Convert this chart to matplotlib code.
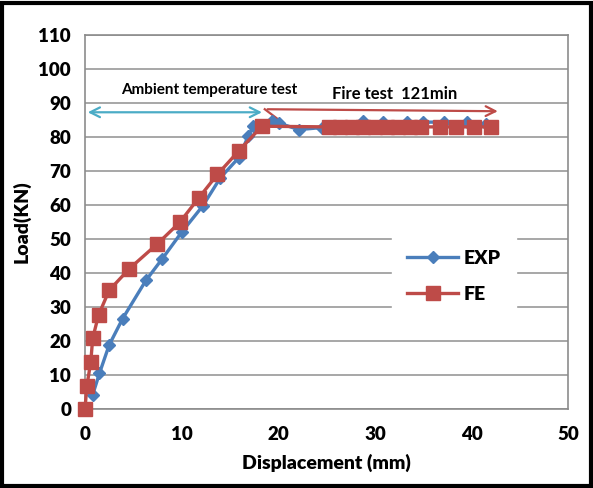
import matplotlib.pyplot as plt
from matplotlib.patches import Rectangle

plt.rcParams['font.family'] = ['Lato', 'DejaVu Sans']

# load-displacement data
exp_x = [0.8, 1.5, 2.5, 3.9, 6.3, 8.0, 10.0, 12.2, 14.0, 15.9, 16.9, 17.4, 19.4, 20.1, 22.1,
         24.5, 26.5, 28.8, 30.8, 33.3, 35.0, 37.1, 39.5, 41.5]
exp_y = [4.2, 10.5, 18.8, 26.6, 37.8, 44.2, 52.0, 59.8, 68.0, 73.9, 80.3, 83.2, 84.6, 84.1, 82.2,
         82.8, 83.2, 84.6, 84.3, 84.4, 84.4, 84.4, 84.4, 83.8]

fe_x = [0.0, 0.2, 0.6, 0.8, 1.4, 2.5, 4.6, 7.5, 9.8, 11.8, 13.7, 15.9, 18.3,
        25.2, 26.4, 27.6, 28.8, 30.0, 31.2, 32.4, 33.6, 34.8, 36.7, 38.4, 40.2, 42.0]
fe_y = [0.0, 6.8, 13.9, 20.8, 27.6, 34.9, 41.3, 48.6, 54.9, 62.2, 69.0, 75.9, 83.2,
        83.0, 83.0, 83.0, 83.0, 83.0, 83.0, 83.0, 83.0, 83.0, 83.0, 83.0, 83.0, 83.0]

exp_color = '#4a7ebb'
fe_color = '#be4b48'

fig = plt.figure(figsize=(5.93, 4.88), dpi=100)
ax = fig.add_axes([0.1433, 0.162, 0.815, 0.766])

ax.set_xlim(0, 50)
ax.set_ylim(0, 110)
ax.set_xticks(range(0, 51, 10))
ax.set_yticks(range(0, 111, 10))
ax.grid(axis='y', color='#a0a0a0', lw=1.3)
ax.set_axisbelow(True)
for s in ax.spines.values():
    s.set_color('#8c8c8c')
    s.set_linewidth(1.2)
ax.tick_params(length=0, labelsize=13.5)
ax.tick_params(axis='x', pad=12)
ax.tick_params(axis='y', pad=10)
for lab in ax.get_xticklabels() + ax.get_yticklabels():
    lab.set_fontweight('heavy')

ax.plot(exp_x, exp_y, color=exp_color, lw=2.4, marker='D', ms=6.5, label='EXP', clip_on=False, zorder=3)
ax.plot(fe_x, fe_y, color=fe_color, lw=2.4, marker='s', ms=9.5, label='FE', clip_on=False, zorder=4)

# annotations
ax.annotate('', xy=(0, 87.3), xytext=(18.6, 87.3),
            arrowprops=dict(arrowstyle='<->,head_length=0.7,head_width=0.35', color='#4bacc6', lw=1.6))
ax.annotate('', xy=(43.0, 87.6), xytext=(18.6, 88.2),
            arrowprops=dict(arrowstyle='->,head_length=0.7,head_width=0.35', color=fe_color, lw=1.6))
ax.plot([18.6, 19.9], [88.2, 85.4], color=fe_color, lw=1.6)
ax.text(12.9, 93.8, 'Ambient temperature test', ha='center', va='center', fontsize=11, fontweight='bold')
ax.text(32.0, 92.8, 'Fire test  121min', ha='center', va='center', fontsize=12, fontweight='bold')

ax.set_xlabel('Displacement (mm)', fontsize=14, fontweight='heavy', labelpad=8)
ax.set_ylabel('Load(KN)', fontsize=14, fontweight='heavy', labelpad=6)

leg = ax.legend(loc='center left', bbox_to_anchor=(0.615, 0.355), frameon=True, fontsize=14,
                handlelength=2.6, labelspacing=1.0, borderpad=0.8, handletextpad=0.3)
leg.get_frame().set_edgecolor('white')
leg.get_frame().set_alpha(1)
for t in leg.get_texts():
    t.set_fontweight('heavy')

# outer black border
fig.patches.append(Rectangle((0.004, 0.004), 0.992, 0.99, transform=fig.transFigure,
                             fill=False, edgecolor='black', lw=3))

fig.savefig('out.png', dpi=100)
